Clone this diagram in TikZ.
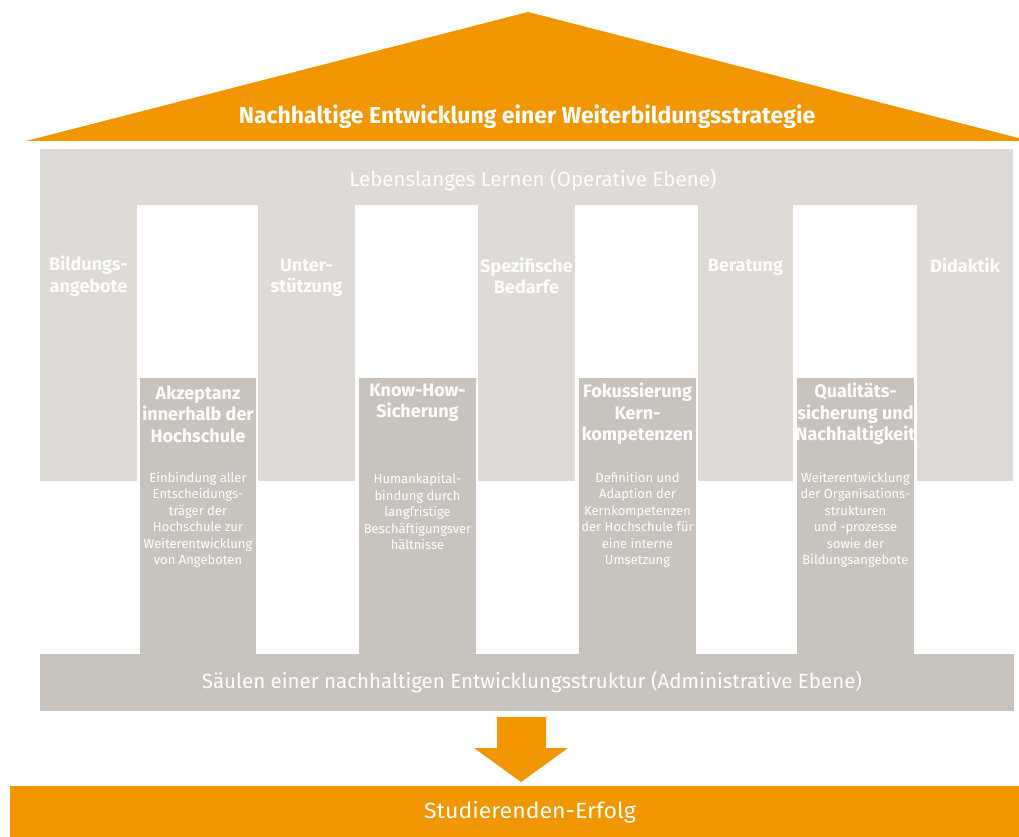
\documentclass[tikz,border=0pt]{standalone}
\usepackage{fontspec}
\setmainfont{Fira Sans}
\newfontfamily\widefont[FakeStretch=1.05]{Fira Sans}
\definecolor{roofor}{RGB}{242,150,0}
\definecolor{lightgr}{RGB}{222,218,214}
\definecolor{darkgr}{RGB}{201,195,190}
\begin{document}
\begin{tikzpicture}[x=1pt,y=-1pt,
  coltext/.style={text=white,font=\fontsize{18}{21.5}\selectfont\bfseries,align=center,inner sep=0pt},
  boxtitle/.style={text=white,font=\fontsize{18}{21.5}\selectfont\bfseries,align=center,inner sep=0pt},
  boxdesc/.style={text=white,font=\fontsize{13}{16.5}\selectfont,align=center,inner sep=0pt},
  bigtext/.style={text=white,inner sep=0pt}]
\useasboundingbox (0,0) rectangle (1019,837);
\clip (0,0) rectangle (1019,837);
% roof
\fill[roofor] (26,141) -- (528,12) -- (1030,141) -- cycle;
% beam and columns
\fill[lightgr] (40,149) rectangle (1013,481);
\foreach \a/\b in {137/258,355/478,575/698,793/917}
  \fill[white] (\a,205) rectangle (\b,481);
% inner boxes
\foreach \a/\b in {140/256,359/476,579/696,797/914}
  \fill[darkgr] (\a,378) rectangle (\b,654);
% base
\fill[darkgr] (40,654) rectangle (1014,711);
% arrow
\fill[roofor] (497,717) -- (546,717) -- (546,748) -- (568,748) -- (521,782) -- (474,748) -- (497,748) -- cycle;
% bottom bar
\fill[roofor] (10,786) rectangle (1030,840);
% texts
\node[bigtext,font=\fontsize{23}{26}\selectfont\bfseries] (title) at (527,117) {Nachhaltige Entwicklung einer Weiterbildungsstrategie};
\node[bigtext,font=\fontsize{20.5}{24}\selectfont] (ll) at (533,180) {Lebenslanges Lernen (Operative Ebene)};
\node[coltext] (c1) at (88.5,276) {Bildungs-\\angebote};
\node[coltext] (c2) at (306.5,278) {Unter-\\stützung};
\node[coltext] (c3) at (526.5,276) {Spezifische\\Bedarfe};
\node[coltext] (c4) at (745.5,267) {Beratung};
\node[coltext] (c5) at (965,265) {Didaktik};
\node[boxtitle] (t1) at (198,414) {Akzeptanz\\innerhalb der\\Hochschule};
\node[boxtitle] (t2) at (417.5,403) {Know-How-\\Sicherung};
\node[boxtitle] (t3) at (637.5,414) {Fokussierung\\Kern-\\kompetenzen};
\node[boxtitle] (t4) at (855.5,414) {Qualitäts-\\sicherung und\\Nachhaltigkeit};
\node[boxdesc] (d1) at (198,520) {Einbindung aller\\Entscheidungs-\\träger der\\Hochschule zur\\Weiterentwicklung\\von Angeboten};
\node[boxdesc] (d2) at (417.5,512) {Humankapital-\\bindung durch\\langfristige\\Beschäftigungsver\\hältnisse};
\node[boxdesc] (d3) at (637.5,520) {Definition und\\Adaption der\\Kernkompetenzen\\der Hochschule für\\eine interne\\Umsetzung};
\node[boxdesc] (d4) at (855.5,520) {Weiterentwicklung\\der Organisations-\\strukturen\\und -prozesse\\sowie der\\Bildungsangebote};
\node[bigtext,font=\fontsize{20.5}{24}\selectfont] (base) at (532,682) {Säulen einer nachhaltigen Entwicklungsstruktur (Administrative Ebene)};
\node[bigtext,font=\widefont\fontsize{22}{25}\selectfont] (erfolg) at (530,812) {Studierenden-Erfolg};
\end{tikzpicture}
\end{document}
